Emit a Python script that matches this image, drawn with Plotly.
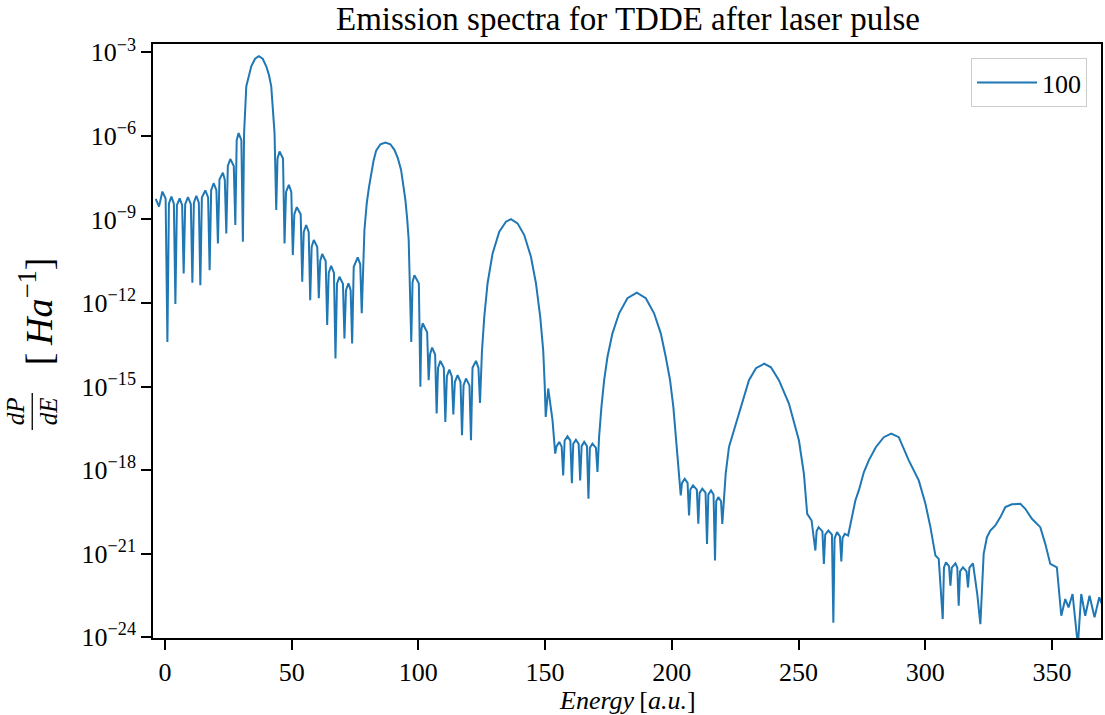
import plotly.graph_objects as go

# Energy [a.u.] of the traced points
energy = [
    -3.62, -2.32, -0.99, 0.29, 0.99, 1.59, 2.56, 3.54, 4.14, 4.74, 5.83, 6.81, 7.41, 8.01, 9.10, 10.24,
    10.84, 11.44, 12.41, 13.39, 13.99, 14.59, 15.96, 17.05, 17.65, 18.25, 19.23, 20.32, 20.92, 21.52,
    22.89, 23.63, 24.23, 24.83, 25.81, 27.18, 27.78, 28.33, 29.08, 30.17, 30.77,
    31.25, 32.11, 33.08, 34.08, 35.58, 37.08, 38.58, 39.99, 41.08, 41.96, 43.26, 43.93,
    44.43, 45.23, 46.60, 47.20, 47.80, 48.90, 49.87, 50.47, 51.07, 52.05, 53.58, 54.18, 54.78, 55.75,
    56.73, 57.33, 57.90, 58.75, 60.12, 60.72, 61.28, 62.06, 63.43, 64.03, 64.63, 65.60, 66.70, 67.30,
    67.90, 68.87, 70.24, 70.84, 71.44, 72.42, 73.28, 73.88, 74.50, 76.08, 77.06, 77.66,
    78.72, 79.63, 80.50, 81.36, 82.30, 83.33, 85.03, 87.00, 88.97, 90.54, 91.90, 93.18, 94.88, 95.60,
    96.18, 97.20,
    97.70, 98.42, 100.19, 100.79, 101.15, 101.69, 103.46, 104.06, 104.60, 105.40, 106.61, 107.21, 107.75,
    108.67, 110.04, 110.64, 111.24, 112.21, 113.19, 113.79, 114.39, 115.48, 116.62, 117.22, 117.82,
    118.79, 120.16, 120.76, 121.36, 122.73, 123.71, 124.31,
    125.10, 126.00, 127.30, 129.28, 131.91, 134.56, 136.52, 139.13, 141.77, 144.41, 146.38, 148.07,
    149.25, 149.84, 150.24, 151.22,
    152.92, 153.98, 154.50, 155.56, 156.53, 157.13, 157.70, 158.83, 159.96, 160.56, 161.10, 162.14,
    163.23, 163.83, 164.40, 165.41, 166.50, 167.10, 167.65, 168.68, 170.05, 170.65,
    171.29, 172.22, 173.29, 174.59, 176.56, 179.20, 182.47, 186.17, 189.72, 192.99, 195.63, 197.60,
    199.29, 200.59, 201.54, 202.84, 203.51,
    204.00, 205.08, 206.20, 206.78, 207.30, 208.35, 209.85, 210.44, 210.95, 212.02, 213.30, 213.87,
    214.40, 215.44, 216.45, 217.02, 217.50, 218.32, 219.40, 219.90,
    221.24, 222.54, 224.51, 227.78, 230.42, 233.18, 236.41, 239.09, 242.24, 246.18, 250.12, 252.09,
    253.39, 255.12,
    256.62, 257.10, 257.88, 259.40, 259.97, 260.50, 261.74, 263.15, 263.71, 264.20, 265.17, 266.30,
    266.86, 267.35, 268.24, 269.54,
    271.12, 272.40, 273.76, 275.73, 277.70, 280.46, 283.61, 286.52, 289.52, 293.46, 297.40, 300.04,
    302.01, 303.98, 305.28,
    306.86, 307.35, 308.16, 309.35, 309.89, 310.45, 311.86, 312.60, 313.16, 313.70, 314.85, 316.25,
    316.83, 317.40, 318.79, 320.48, 321.71,
    323.01, 324.30, 325.65, 327.62, 329.60, 331.56, 334.16, 337.47, 339.44, 342.04, 345.35, 347.32,
    349.29, 351.89,
    353.63, 355.20, 356.50, 358.08, 360.17, 361.51, 363.08, 364.78, 366.75, 368.60, 370.50,
]

# log10 of dP/dE [Ha^-1] at those energies
log10_dPdE = [
    -8.26, -8.54, -8.00, -8.25, -13.40, -8.43, -8.18, -8.43, -12.04, -8.49, -8.24, -8.49, -10.94, -8.45, -8.20, -8.45,
    -11.27, -8.40, -8.15, -8.40, -11.36, -8.21, -7.96, -8.21, -10.82, -7.95, -7.70, -7.95, -9.86, -7.57,
    -7.32, -7.57, -9.50, -7.08, -6.83, -7.08, -9.20, -6.15, -5.90, -6.15, -9.80,
    -5.90, -4.22, -3.82, -3.50, -3.23, -3.14, -3.23, -3.50, -3.82, -4.22, -5.90, -8.66,
    -6.81, -6.56, -6.81, -9.86, -8.01, -7.76, -8.01, -10.28, -8.81, -8.56, -8.81, -11.24, -9.45, -9.20,
    -9.45, -11.90, -9.99, -9.74, -9.99, -11.83, -10.49, -10.24, -10.49, -12.79, -10.92, -10.67, -10.92, -13.99,
    -11.31, -11.06, -11.31, -13.27, -11.54, -11.29, -11.54, -13.45, -10.70, -10.36, -10.61, -12.37,
    -9.38, -8.42, -7.85, -7.34, -6.90, -6.53, -6.30, -6.24, -6.30, -6.50, -6.80, -7.22, -8.30, -9.00,
    -9.74, -13.40,
    -11.25, -11.00, -11.30, -15.01, -12.98, -12.73, -13.05, -14.77, -13.85, -13.60, -13.85, -15.97, -14.33,
    -14.08, -14.33, -16.27, -14.64, -14.39, -14.64, -16.00, -14.84, -14.59, -14.84, -16.75, -14.96,
    -14.71, -14.96, -16.93, -14.33, -14.08, -14.33, -15.59,
    -13.70, -12.50, -11.29, -10.22, -9.44, -9.08, -8.99, -9.14, -9.56, -10.34, -11.29, -12.50,
    -13.70, -14.95, -16.09, -15.07,
    -16.21, -17.41, -17.15, -16.99, -17.15, -18.19, -16.94, -16.79, -16.94, -18.47, -17.06, -16.91,
    -17.06, -18.37, -17.14, -16.99, -17.14, -19.03, -17.20, -17.05, -17.20, -18.07,
    -16.81, -15.73, -14.77, -13.94, -13.09, -12.37, -11.83, -11.63, -11.83, -12.37, -13.09, -13.94,
    -14.77, -15.73, -16.81, -18.13, -18.91,
    -18.46, -18.31, -18.46, -19.63, -18.70, -18.55, -18.70, -19.93, -18.82, -18.67, -18.82, -20.65,
    -18.88, -18.73, -18.88, -21.25, -19.12, -18.97, -19.12, -19.93,
    -18.13, -17.17, -16.57, -15.61, -14.77, -14.34, -14.18, -14.31, -14.77, -15.61, -16.93, -18.13,
    -19.57, -19.81,
    -20.89, -20.20, -20.05, -20.20, -21.37, -20.32, -20.17, -20.32, -23.48, -20.45, -20.23, -20.38,
    -21.28, -20.44, -20.29, -20.35,
    -19.63, -19.09, -18.73, -18.08, -17.65, -17.18, -16.82, -16.69, -16.82, -17.65, -18.37, -19.21,
    -20.05, -21.07, -21.19,
    -23.35, -21.50, -21.31, -21.46, -22.15, -21.50, -21.35, -21.50, -22.87, -21.64, -21.49, -21.64,
    -22.21, -21.50, -21.35, -22.45, -23.53,
    -21.01, -20.41, -20.17, -19.99, -19.69, -19.33, -19.23, -19.21, -19.39, -19.75, -20.05, -20.65,
    -21.37, -21.49,
    -23.23, -22.63, -22.93, -22.45, -24.30, -22.45, -23.23, -22.51, -23.29, -22.57, -23.00,
]

dPdE = [10 ** v for v in log10_dPdE]

series_name = "100"
x_ticks = [0, 50, 100, 150, 200, 250, 300, 350]
y_tick_exponents = [-24, -21, -18, -15, -12, -9, -6, -3]

FONT = "Liberation Serif"
W, H = 1105, 715
L_M, R_M, T_M, B_M = 153, 2, 44, 77
PW, PH = W - L_M - R_M, H - T_M - B_M


def px(xp):
    return (xp - L_M) / PW


def py(yp):
    return (H - B_M - yp) / PH


fig = go.Figure()
fig.add_trace(go.Scatter(
    x=energy, y=dPdE, mode="lines", name=series_name,
    line=dict(color="#1f77b4", width=2),
))

axis_common = dict(
    showline=True, mirror=True, linecolor="black", linewidth=1.6,
    ticks="outside", ticklen=10, tickwidth=1.6, tickcolor="black",
    showgrid=False, zeroline=False,
    tickfont=dict(family=FONT, size=26, color="black"),
)

fig.update_layout(
    width=W, height=H,
    margin=dict(l=L_M, r=R_M, t=T_M, b=B_M),
    paper_bgcolor="white", plot_bgcolor="white",
    title=dict(text="Emission spectra for TDDE after laser pulse",
               x=(L_M + PW / 2) / W, xanchor="center",
               y=1 - 18 / H, yanchor="middle", yref="container",
               font=dict(family=FONT, size=33, color="black")),
    xaxis=dict(range=[-4.69, 369.3], tickvals=x_ticks,
               ticktext=[str(t) for t in x_ticks], **axis_common),
    yaxis=dict(type="log", range=[-24.03, -2.70],
               tickvals=[10.0 ** e for e in y_tick_exponents],
               ticktext=["10<sup>\u2212%d</sup>" % (-e) for e in y_tick_exponents],
               **axis_common),
    showlegend=True,
    legend=dict(x=px(1089), y=py(58), xanchor="right", yanchor="top",
                bgcolor="rgba(255,255,255,0.8)", bordercolor="#cccccc", borderwidth=1,
                itemwidth=60,
                font=dict(family=FONT, size=26, color="black")),
)

# axis labels
fig.add_annotation(text="<i>Energy</i>\u2009[<i>a.u.</i>]", xref="paper", yref="paper",
                   x=px(628), y=py(700), showarrow=False, xanchor="center", yanchor="middle",
                   font=dict(family=FONT, size=26, color="black"))
fig.add_annotation(text="<i>dP</i><br><i>dE</i>", xref="paper", yref="paper",
                   x=px(32), y=py(411), showarrow=False, textangle=-90,
                   xanchor="center", yanchor="middle",
                   font=dict(family=FONT, size=25, color="black"))
fig.add_shape(type="line", xref="paper", yref="paper",
              x0=px(32), x1=px(32), y0=py(393), y1=py(430),
              line=dict(color="black", width=1.3))
fig.add_annotation(text="[\u2009<i>Ha</i><sup>\u22121</sup>]", xref="paper", yref="paper",
                   x=px(36), y=py(311), showarrow=False, textangle=-90,
                   xanchor="center", yanchor="middle",
                   font=dict(family=FONT, size=38, color="black"))

fig.write_html("out.html", config={"displayModeBar": False},
               post_script="document.body.style.margin='0';")
